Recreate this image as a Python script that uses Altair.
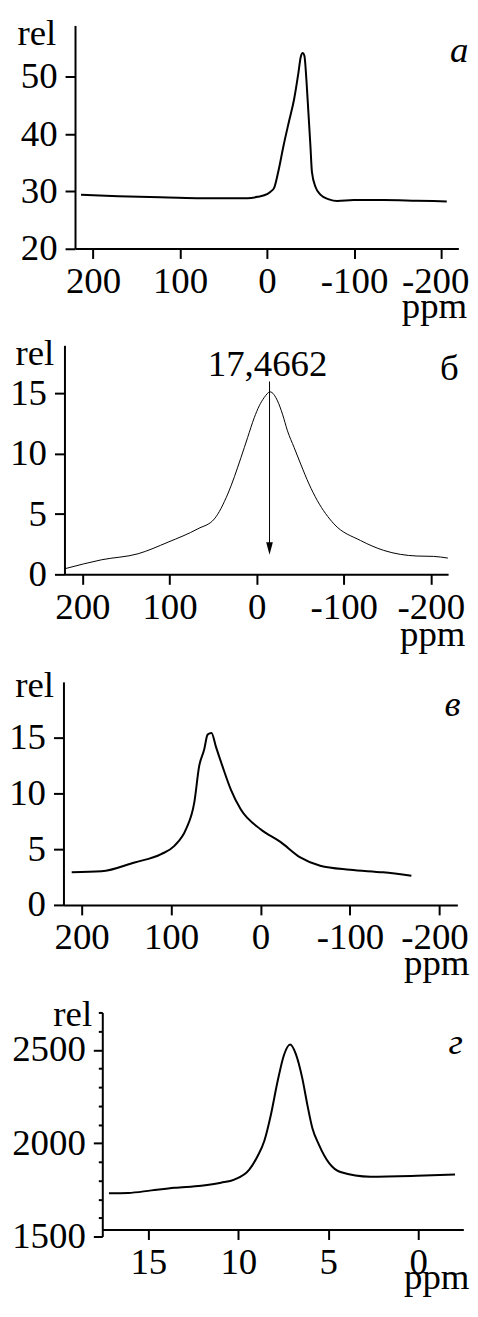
import altair as alt
import pandas as pd

FONT = "Liberation Serif"
FS = 37

# ---------------- data ----------------
# panel а
a_ppm = [213.8, 171, 113.8, 75.7, 22.3, 10.9, -0.6, -4.3, -8.1, -13.1, -18.9, -25.3, -31, -36,
         -38.7, -41, -42.9, -45.2, -47.5, -49.8, -51.6, -55.8, -61.6, -71.1, -80.7, -99.7, -134,
         -172.2, -206.5]
a_val = [29.38, 29.15, 28.93, 28.8, 28.8, 29.03, 29.55, 29.97, 30.6, 33.6, 37.96, 42.3, 46.05, 50.7,
         53.5, 54.17, 53.7, 49.5, 43.75, 37.96, 33.3, 30.7, 29.38, 28.58, 28.29, 28.46, 28.46,
         28.34, 28.23]
a_xticks = [200, 100, 0, -100, -200]
a_yticks = [20, 30, 40, 50]

# panel б
b_ppm = [219.9, 177.9, 136, 101.7, 67.4, 48.5, 33.1, 17.9, 10.3, 2.7, -3, -8.7, -15.5, -24, -29.7,
         -35.4, -43, -50.6, -60.1, -69.7, -88.7, -119.2, -145.8, -184, -203, -219.5]
b_val = [0.47, 1.21, 1.71, 2.67, 3.78, 4.6, 6.67, 9.7, 11.36, 13.0, 13.98, 14.67, 15.14, 14.39, 13.29,
         11.91, 10.53, 9.15, 7.5, 6.12, 4.19, 2.81, 1.99, 1.52, 1.49, 1.35]
b_xticks = [200, 100, 0, -100, -200]
b_yticks = [0, 5, 10, 15]
b_peak_label = "17,4662"
b_arrow_ppm = -14.8
b_arrow_top = 16.0
b_arrow_tip = 2.15

# panel в
c_ppm = [211.1, 177.8, 140.8, 111.1, 96.3, 83.3, 74.1, 68.6, 63, 59.2, 54.8, 50, 42.6, 33.3, 22.2, 0,
         -22.2, -44.4, -66.7, -100, -137, -168.6]
c_val = [2.92, 3.01, 3.81, 4.55, 5.3, 6.79, 9.17, 12.44, 13.93, 15.27, 15.42, 14.22, 12.44, 10.36, 8.57,
         6.79, 5.65, 4.26, 3.51, 3.15, 2.92, 2.62]
c_xticks = [200, 100, 0, -100, -200]
c_yticks = [0, 5, 10, 15]

# panel г
d_ppm = [17.19, 16.12, 14.83, 13.54, 12.06, 10.96, 10.22, 9.39, 8.93, 8.56, 8.19, 7.82, 7.45, 7.12,
         6.81, 6.44, 6.16, 5.88, 5.52, 4.96, 4.32, 2.66, 0.07, -2.05]
d_val = [1731, 1733, 1747, 1761, 1772, 1788, 1805, 1858, 1930, 2010, 2151, 2329, 2475, 2528, 2480,
         2347, 2205, 2080, 1992, 1894, 1845, 1820, 1825, 1832]
d_xticks = [15, 10, 5, 0]
d_yticks = list(range(1500, 2800, 100))

panel_letters = ["а", "б", "в", "г"]

W = 462
NEG = "datum.value < 0 ? '-' + abs(datum.value) : '' + datum.value"


def x_axis(values, offset, title_x, title_y, label_expr=NEG, last_shift=0):
    return alt.Axis(values=values, orient="bottom", offset=offset, grid=False,
                    tickSize=10, tickWidth=2, tickColor="black",
                    domainColor="black", domainWidth=2,
                    labelFont=FONT, labelFontSize=FS, labelColor="black", labelPadding=5,
                    labelFlush=False, labelOverlap=False, labelExpr=label_expr,
                    labelOffset={"condition": {"test": "datum.value === -200", "value": last_shift},
                                 "value": 0},
                    title="ppm", titleFont=FONT, titleFontSize=FS, titleFontWeight="normal",
                    titleColor="black", titleAlign="right", titleBaseline="alphabetic",
                    titleAngle=0, titleX=title_x, titleY=title_y)


def y_axis(values, offset, title_x, title_y, title_align="left", tick_size=10,
           label_expr="'' + datum.value"):
    return alt.Axis(values=values, orient="left", offset=offset, grid=False,
                    tickSize=tick_size, tickWidth=2, tickColor="black",
                    domainColor="black", domainWidth=2,
                    labelFont=FONT, labelFontSize=FS, labelColor="black", labelPadding=8,
                    labelFlush=False, labelOverlap=False, labelExpr=label_expr,
                    title="rel", titleFont=FONT, titleFontSize=FS, titleFontWeight="normal",
                    titleColor="black", titleAlign=title_align, titleBaseline="alphabetic",
                    titleAngle=0, titleX=title_x, titleY=title_y)


def enc(xs, ys, xa, ya):
    return dict(x=alt.X("ppm:Q", scale=xs, axis=xa), y=alt.Y("val:Q", scale=ys, axis=ya))


def text_layer(e, ppm, val, text, italic=True, align="left"):
    df = pd.DataFrame({"ppm": [ppm], "val": [val], "t": [text]})
    return alt.Chart(df).mark_text(font=FONT, fontSize=FS, color="black", align=align,
                                   baseline="alphabetic",
                                   fontStyle="italic" if italic else "normal").encode(
        text="t:N", **e)


def curve(e, ppm, val, width):
    df = pd.DataFrame({"ppm": ppm, "val": val})
    return alt.Chart(df).mark_line(color="black", strokeWidth=width,
                                   interpolate="monotone").encode(**e)


# ---- panel а (band page y 8..300)
ea = enc(alt.Scale(domain=[220.7, -219.8], range=[65.3, 450.3], zero=False, nice=False),
         alt.Scale(domain=[20, 59], range=[238.7, 14.7], zero=False, nice=False),
         x_axis(a_xticks, -53.3, 458.7, 69.3, last_shift=-6),
         y_axis(a_yticks, -65.3, -58.3, 33.7))
pa = alt.layer(
    curve(ea, a_ppm, a_val, 2),
    text_layer(ea, -210.3, 52.55, panel_letters[0]),
).properties(width=W, height=292)

# ---- panel б (band page y 300..632)
eb = enc(alt.Scale(domain=[220.6, -219.8], range=[54.7, 440], zero=False, nice=False),
         alt.Scale(domain=[0, 19], range=[274, 44], zero=False, nice=False),
         x_axis(b_xticks, -58, 457, 71.7),
         y_axis(b_yticks, -54.7, -49.7, 63.3))
arrow_df = pd.DataFrame({"ppm": [b_arrow_ppm], "val": [b_arrow_top], "val2": [b_arrow_tip]})
head_df = pd.DataFrame({"ppm": [b_arrow_ppm], "val": [b_arrow_tip]})
pb = alt.layer(
    curve(eb, b_ppm, b_val, 1),
    alt.Chart(arrow_df).mark_rule(color="black", strokeWidth=1).encode(y2="val2:Q", **eb),
    alt.Chart(head_df).mark_point(shape="M-0.53,-1L0.53,-1L0,1Z", filled=True, color="black",
                                  size=159, opacity=1, strokeWidth=0).encode(**eb),
    text_layer(eb, -12.6, 16.46, b_peak_label, italic=False, align="center"),
    text_layer(eb, -210.6, 16.1, panel_letters[1], italic=False),
).properties(width=W, height=332)

# ---- panel в (band page y 632..962)
ec = enc(alt.Scale(domain=[220.3, -220], range=[53.7, 449.3], zero=False, nice=False),
         alt.Scale(domain=[0, 20], range=[274, 50], zero=False, nice=False),
         x_axis(c_xticks, -56, 461, 69.7, last_shift=-5),
         y_axis(c_yticks, -53.7, -49, 64.7))
pc = alt.layer(
    curve(ec, c_ppm, c_val, 2),
    text_layer(ec, -205.6, 16.9, panel_letters[2]),
).properties(width=W, height=330)

# ---- panel г (band page y 962..1309)
minor_tick = {"condition": {"test": "datum.value % 500 === 0", "value": 9}, "value": 4}
ed = enc(alt.Scale(domain=[17.56, -2.51], range=[92.7, 455.3], zero=False, nice=False),
         alt.Scale(domain=[1500, 2700], range=[277, 52], zero=False, nice=False),
         x_axis(d_xticks, -70, 461, 59),
         y_axis(d_yticks, -92.7, -10.7, 64.7, title_align="right", tick_size=minor_tick,
                label_expr="datum.value % 500 === 0 ? '' + datum.value : ''"))
pd_ = alt.layer(
    curve(ed, d_ppm, d_val, 2),
    text_layer(ed, -1.68, 2480, panel_letters[3]),
).properties(width=W, height=340)

chart = alt.vconcat(pa, pb, pc, pd_, spacing=0, bounds="flush").properties(
    padding=0
).configure_view(stroke=None)

chart.save("out.html", embed_options={"renderer": "svg", "actions": False})
